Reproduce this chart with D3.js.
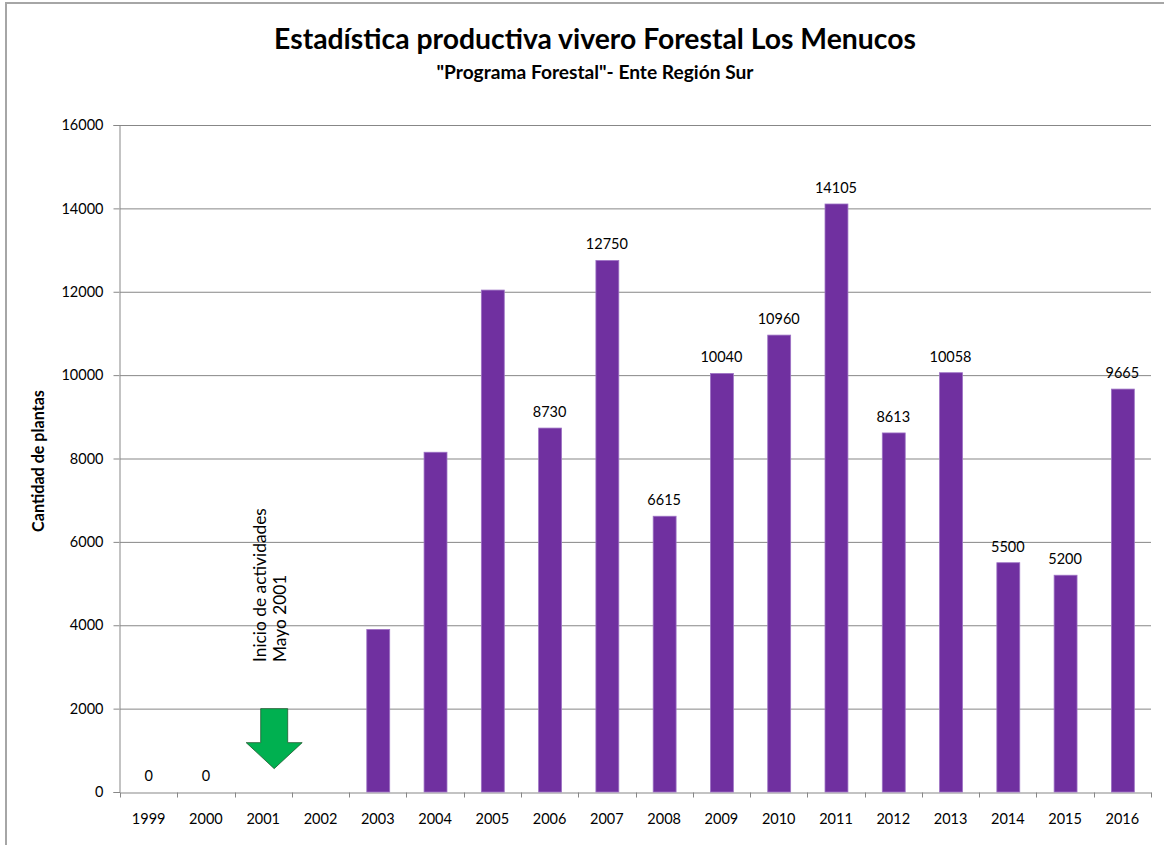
<!DOCTYPE html>
<html>
<head>
<meta charset="utf-8">
<script src="https://cdn.jsdelivr.net/npm/d3@7"></script>
<style>
  body { margin: 0; background: #fff; }
  text { font-family: Lato, "Open Sans", sans-serif; fill: #000; }
</style>
</head>
<body>
<div id="chart"></div>
<script>
"use strict";

// data *************************************************************
var years = ["1999", "2000", "2001", "2002", "2003", "2004", "2005", "2006", "2007",
             "2008", "2009", "2010", "2011", "2012", "2013", "2014", "2015", "2016"];
var plantas = [0, 0, null, null, 3900, 8150, 12040, 8730, 12750,
               6615, 10040, 10960, 14105, 8613, 10058, 5500, 5200, 9665];
var etiquetas = ["0", "0", "", "", "", "", "", "8730", "12750",
                 "6615", "10040", "10960", "14105", "8613", "10058", "5500", "5200", "9665"];
var yTicks = [0, 2000, 4000, 6000, 8000, 10000, 12000, 14000, 16000];

var titulo = "Estadística productiva vivero Forestal Los Menucos";
var subtitulo = "\"Programa Forestal\"- Ente Región Sur";
var ejeY = "Cantidad de plantas";
var nota = ["Inicio de actividades", "Mayo 2001"];

// variables *************************************************************
var width = 1164;
var height = 845;
var pLeft = 120, pRight = 1151, pTop = 125, pBottom = 792;
var gridColor = "#878787";
var barColor = "#7030A0";

var svg = d3.select("#chart")
  .append("svg")
  .attr("width", width)
  .attr("height", height);

// chart border
svg.append("rect")
  .attr("x", 6).attr("y", 3)
  .attr("width", width + 20).attr("height", height + 20)
  .attr("fill", "#fff")
  .attr("stroke", "#a6a6a6")
  .attr("stroke-width", 2);

var x = d3.scaleBand()
  .domain(years)
  .range([pLeft, pRight])
  .paddingInner(0.6)
  .paddingOuter(0.3);

var xTicks = d3.scaleBand().domain(years).range([pLeft, pRight]);

var y = d3.scaleLinear()
  .domain([0, 16000])
  .range([pBottom, pTop]);

function fit(sel, w) {
  var size = parseFloat(sel.style("font-size"));
  var len = sel.node().getComputedTextLength();
  sel.style("font-size", (size * w / len) + "px");
}

// title
svg.append("text")
  .attr("x", 595).attr("y", 49)
  .attr("text-anchor", "middle")
  .style("font-weight", "bold")
  .style("font-size", "26px")
  .text(titulo)
  .call(fit, 642);

svg.append("text")
  .attr("x", 595).attr("y", 79)
  .attr("text-anchor", "middle")
  .style("font-weight", "bold")
  .style("font-size", "15px")
  .text(subtitulo)
  .call(fit, 317);

// gridlines
svg.append("g")
  .selectAll("line")
  .data(yTicks.slice(1))
  .enter()
  .append("line")
  .attr("x1", pLeft).attr("x2", pRight)
  .attr("y1", function(d) { return y(d) + 0.5; })
  .attr("y2", function(d) { return y(d) + 0.5; })
  .attr("stroke", gridColor)
  .attr("stroke-width", 1);

// y axis
var yAxis = svg.append("g")
  .attr("transform", "translate(" + (pLeft - 0.5) + ",0)")
  .call(d3.axisLeft(y).tickValues(yTicks).tickSize(6).tickPadding(10).tickFormat(d3.format("d")));
yAxis.select(".domain").attr("stroke", gridColor);
yAxis.selectAll(".tick line").attr("stroke", gridColor);
yAxis.selectAll(".tick text").style("font-size", "14.5px").style("font-family", "Lato, sans-serif").attr("fill", "#000");

// x axis
var xAxis = svg.append("g")
  .attr("transform", "translate(0," + (pBottom + 0.5) + ")")
  .call(d3.axisBottom(xTicks).tickSize(0).tickPadding(21));
xAxis.select(".domain").attr("stroke", gridColor);
xAxis.selectAll(".tick text").style("font-size", "14.5px").style("font-family", "Lato, sans-serif").attr("fill", "#000");
xAxis.selectAll(".tick line").remove();
xAxis.selectAll(".sep")
  .data(d3.range(years.length + 1))
  .enter()
  .append("line")
  .attr("x1", function(d) { return Math.round(pLeft + d * xTicks.step()) + 0.5; })
  .attr("x2", function(d) { return Math.round(pLeft + d * xTicks.step()) + 0.5; })
  .attr("y1", 0).attr("y2", 5)
  .attr("stroke", gridColor);

// bars
var rows = years.map(function(d, i) { return {year: d, value: plantas[i], label: etiquetas[i]}; });

svg.append("g")
  .selectAll("rect")
  .data(rows.filter(function(d) { return d.value; }))
  .enter()
  .append("rect")
  .attr("x", function(d) { return x(d.year) + 0.5; })
  .attr("y", function(d) { return y(d.value); })
  .attr("width", x.bandwidth())
  .attr("height", function(d) { return pBottom - y(d.value); })
  .attr("fill", barColor)
  .attr("stroke", "#9d72c4")
  .attr("stroke-width", 0.8);

// value labels
svg.append("g")
  .selectAll("text")
  .data(rows.filter(function(d) { return d.label !== ""; }))
  .enter()
  .append("text")
  .attr("x", function(d) { return x(d.year) + x.bandwidth() / 2; })
  .attr("y", function(d) { return y(d.value) - 11; })
  .attr("text-anchor", "middle")
  .style("font-size", "14.5px")
  .text(function(d) { return d.label; });

// y axis label
svg.append("text")
  .attr("transform", "translate(44,461) rotate(-90)")
  .attr("text-anchor", "middle")
  .style("font-weight", "bold")
  .style("font-size", "13px")
  .text(ejeY)
  .call(fit, 142);

// arrow annotation
var ax = x("2001") + x.bandwidth() / 2 + 11;
var aTop = y(2000);
var arrow = [
  [ax - 13.5, aTop], [ax + 13.5, aTop], [ax + 13.5, aTop + 34], [ax + 28, aTop + 34],
  [ax, aTop + 60], [ax - 28, aTop + 34], [ax - 13.5, aTop + 34]
];
svg.append("path")
  .attr("d", d3.line()(arrow) + "Z")
  .attr("fill", "#00B050")
  .attr("stroke", "#1e5a2e")
  .attr("stroke-width", 0.8);

var nt = svg.append("g");
nt.selectAll("text")
  .data(nota)
  .enter()
  .append("text")
  .attr("transform", function(d, i) { return "translate(" + (ax - 8 + i * 20) + ",662) rotate(-90)"; })
  .style("font-size", "16px")
  .text(function(d) { return d; });
nt.select("text").call(fit, 154);
nt.selectAll("text").style("font-size", nt.select("text").style("font-size"));
</script>
</body>
</html>
